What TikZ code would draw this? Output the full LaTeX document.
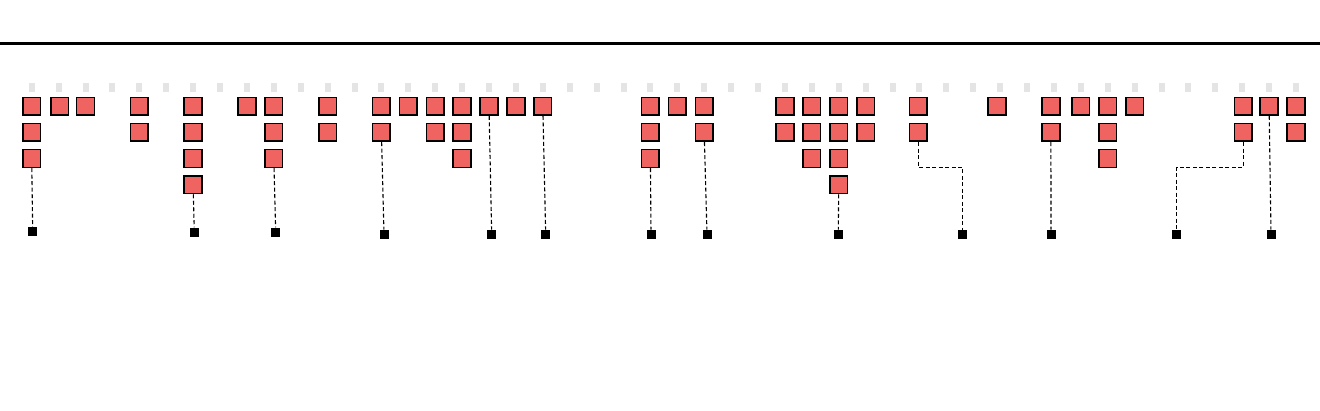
\documentclass[tikz,border=0pt]{standalone}
\usepackage{tikz}
\definecolor{mRed}{HTML}{EF6461}
\definecolor{mDot}{HTML}{E4E4E4}
\begin{document}
\begin{tikzpicture}[x=1pt, y=-1pt,
      sq/.style={draw=black, fill=mRed, line width=1.6pt, minimum size=17.7pt, inner sep=0pt},
      pin/.style={fill=black, minimum size=9pt, inner sep=0pt},
      dot/.style={fill=mDot, minimum width=6pt, minimum height=9pt, inner sep=0pt},
      link/.style={draw, dash pattern=on 4pt off 2.5pt, line width=1.1pt}]
    \useasboundingbox (0,0) rectangle (1320,410);
    \draw[line width=2.2pt] (0,43.5) -- (1320,43.5);
    \foreach \c in {0,...,47}
      \node[dot] (g\c) at ({31.7+26.9*\c},87.7) {};
    \foreach \c/\h/\s in {0/3/0,1/1/1,2/1/0,4/2/0,6/4/0,8/1/0,9/3/0,11/2/0,13/2/0,14/1/0,15/2/0,
        16/3/0,17/1/0,18/1/0,19/1/0,23/3/0,24/1/0,25/2/0,28/2/0,29/3/0,30/4/0,31/2/0,33/2/-1,
        36/1/-3,38/2/-3,39/1/0,40/3/0,41/1/0,45/2/1,46/1/0,47/2/0}
      \foreach \r in {1,...,\h}
        \node[sq] (c\c r\r) at ({31.7+26.9*\c+\s},{106.3+26.1*(\r-1)}) {};
    \node[pin] (e0)  at (32.7,231.7)  {};
    \node[pin] (e6)  at (194.3,232)   {};
    \node[pin] (e9)  at (275.7,232)   {};
    \node[pin] (e13) at (384,234.3)   {};
    \node[pin] (e17) at (491.7,234.3) {};
    \node[pin] (e19) at (545.7,234.3) {};
    \node[pin] (e23) at (651,234.3)   {};
    \node[pin] (e25) at (707,234.3)   {};
    \node[pin] (e30) at (838.3,234.3) {};
    \node[pin] (e33) at (962.7,234.3) {};
    \node[pin] (e38) at (1051,234.3)  {};
    \node[pin] (e45) at (1176.7,234.3) {};
    \node[pin] (e46) at (1271,234.3)  {};
    \draw[link] (c0r3) -- (e0);
    \draw[link] (c6r4) -- (e6);
    \draw[link] (c9r3) -- (e9);
    \draw[link] (c13r2) -- (e13);
    \draw[link] (c17r1) -- (e17);
    \draw[link] (c19r1) -- (e19);
    \draw[link] (c23r3) -- (e23);
    \draw[link] (c25r2) -- (e25);
    \draw[link] (c30r4) -- (e30);
    \draw[link] (c33r2.south) -- ++(0,25) -| (e33);
    \draw[link] (c38r2) -- (e38);
    \draw[link] (c45r2.south) -- ++(0,25) -| (e45);
    \draw[link] (c46r1) -- (e46);
  \end{tikzpicture}
\end{document}
